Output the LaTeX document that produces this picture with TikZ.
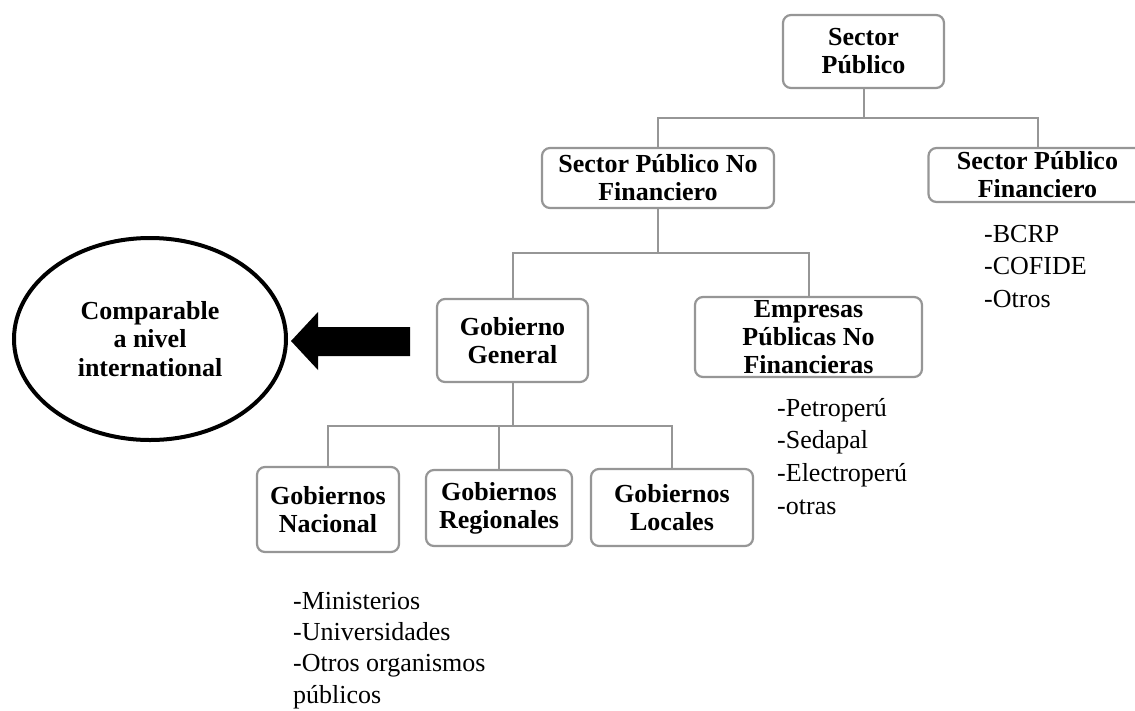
\documentclass[tikz,border=0pt]{standalone}
\usepackage{fontspec}
\setmainfont{Liberation Serif}
\usetikzlibrary{shapes.geometric}
\definecolor{boxgray}{RGB}{150,150,150}
\begin{document}
\begin{tikzpicture}[x=1pt,y=-1pt,
  box/.style={draw=boxgray, line width=2.2pt, rounded corners=8pt, fill=white,
    align=center, inner sep=0pt, font=\bfseries\fontsize{26}{28}\selectfont},
  conn/.style={draw=boxgray, line width=2pt},
  item/.style={anchor=base west, inner sep=0pt, font=\fontsize{26}{33}\selectfont}]
\useasboundingbox (0,0) rectangle (1135,710);
\clip (0,0) rectangle (1135,710);

% boxes
\node[box, minimum width=161pt, minimum height=73pt] (sp) at (863.5,51.5) {Sector\\Público};
\node[box, minimum width=232pt, minimum height=60pt] (spnf) at (658,178) {Sector Público No\\Financiero};
\node[box, minimum width=218pt, minimum height=54pt] (spf) at (1037.5,175) {Sector Público\\Financiero};
\node[box, minimum width=151pt, minimum height=83pt] (gg) at (512.5,340.5) {Gobierno\\General};
\node[box, minimum width=227pt, minimum height=80pt] (epnf) at (808.5,337) {Empresas\\Públicas No\\Financieras};
\node[box, minimum width=142pt, minimum height=85pt] (gn) at (328,509.5) {Gobiernos\\Nacional};
\node[box, minimum width=146pt, minimum height=76pt] (gr) at (499,508) {Gobiernos\\Regionales};
\node[box, minimum width=162pt, minimum height=77pt] (gl) at (672,507.5) {Gobiernos\\Locales};

% ellipse
\node[ellipse, draw=black, line width=4pt, minimum width=272pt, minimum height=202pt,
  inner sep=0pt, align=center, font=\bfseries\fontsize{26}{28.5}\selectfont]
  (cmp) at (150,339) {Comparable\\a nivel\\international};

% big arrow
\fill[black] (410,327) -- (318,327) -- (318,312) -- (291,341) -- (318,370)
  -- (318,356) -- (410,356) -- cycle;

% connectors
\coordinate (j1) at (863.5,117.5);
\draw[conn] (sp.south) -- (j1);
\draw[conn] (spnf.north) |- (j1) -| (spf.north);
\coordinate (j2) at (658,253);
\draw[conn] (spnf.south) -- (j2);
\draw[conn] (gg.north) |- (j2) -| (epnf.north);
\coordinate (j3) at (512.5,426);
\draw[conn] (gg.south) -- (j3);
\draw[conn] (gn.north) |- (j3) -| (gl.north);
\draw[conn] (gr.north) -- (gr.north |- j3);

% lists
\node[item] (f1) at (984,242) {-BCRP};
\node[item] (f2) at (984,274.5) {-COFIDE};
\node[item] (f3) at (984,307) {-Otros};

\node[item] (e1) at (777,416) {-Petroperú};
\node[item] (e2) at (777,448.7) {-Sedapal};
\node[item] (e3) at (777,481.4) {-Electroperú};
\node[item] (e4) at (777,514) {-otras};

\node[item] (m1) at (293,609) {-Ministerios};
\node[item] (m2) at (293,640.3) {-Universidades};
\node[item] (m3) at (293,671.6) {-Otros organismos};
\node[item] (m4) at (293,703) {públicos};
\end{tikzpicture}
\end{document}
